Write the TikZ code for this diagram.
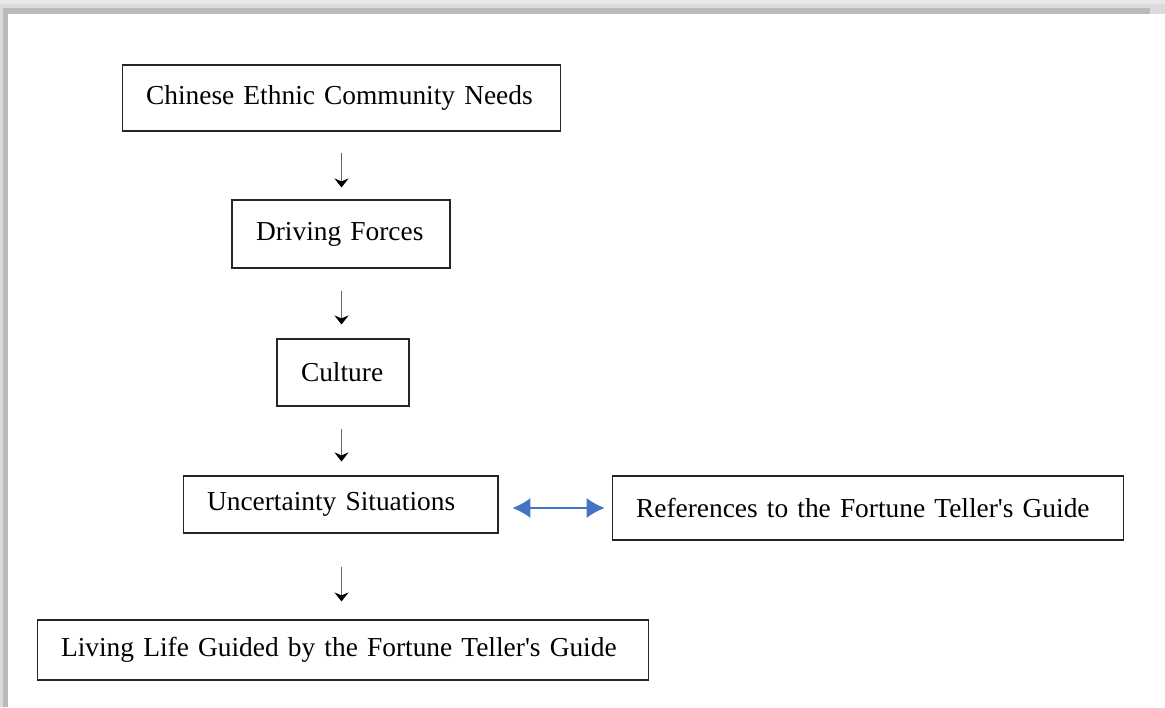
\documentclass[tikz,border=0pt]{standalone}
\usepackage{fontspec}
\setmainfont{Liberation Serif}
\usepackage{xcolor}
\usetikzlibrary{arrows.meta}

\definecolor{linkblue}{HTML}{4472C4}

\begin{document}
\begin{tikzpicture}[x=0.02cm, y=-0.02cm,
    box/.style={draw=black!85, line width=0.6pt, align=left, inner xsep=0pt, inner ysep=0pt,
      font=\fontsize{15.6}{19}\selectfont, execute at begin node={\hspace*{0.48cm}}},
    flow/.style={draw=black!60, line width=0.6pt, -{Stealth[black, length=0.18cm, width=0.28cm]}},
    link/.style={draw=linkblue, line width=0.6pt,
      {Latex[length=0.36cm, width=0.4cm]}-{Latex[length=0.36cm, width=0.4cm]}}]

  % page frame with shadow
  \fill[black!9] (0,0) rectangle (1165,707);
  \fill[black!14] (0,4) rectangle (1165,707);
  \fill[black!27] (3,8) rectangle (1150,707);
  \fill[white] (8,14) rectangle (1165,707);

  % main chain
  \node[box, text width=8.78cm, minimum height=1.32cm] (needs) at (341.5,98) {Chinese Ethnic Community Needs};
  \node[box, text width=4.36cm, minimum height=1.36cm] (forces) at (341,234) {Driving Forces};
  \node[box, text width=2.64cm, minimum height=1.34cm] (culture) at (343,372.5) {Culture};
  \node[box, text width=6.3cm, minimum height=1.14cm] (uncertain) at (340.5,504.5) {Uncertainty Situations};
  \node[box, text width=12.24cm, minimum height=1.2cm] (living) at (343,650) {Living Life Guided by the Fortune Teller\textquotesingle s Guide};

  % side box
  \node[box, text width=10.24cm, minimum height=1.28cm] (refs) at (868,508) {References to the Fortune Teller\textquotesingle s Guide};

  % arrows
  \draw[flow, shorten <=0.42cm, shorten >=0.24cm] (needs.south) -- (needs.south |- forces.north);
  \draw[flow, shorten <=0.44cm, shorten >=0.28cm] (needs.south |- forces.south) -- (needs.south |- culture.north);
  \draw[flow, shorten <=0.44cm, shorten >=0.28cm] (needs.south |- culture.south) -- (needs.south |- uncertain.north);
  \draw[flow, shorten <=0.66cm, shorten >=0.36cm] (needs.south |- uncertain.south) -- (needs.south |- living.north);
  \draw[link, shorten <=0.28cm, shorten >=0.14cm] (uncertain.east |- refs.west) -- (refs.west);
\end{tikzpicture}
\end{document}
